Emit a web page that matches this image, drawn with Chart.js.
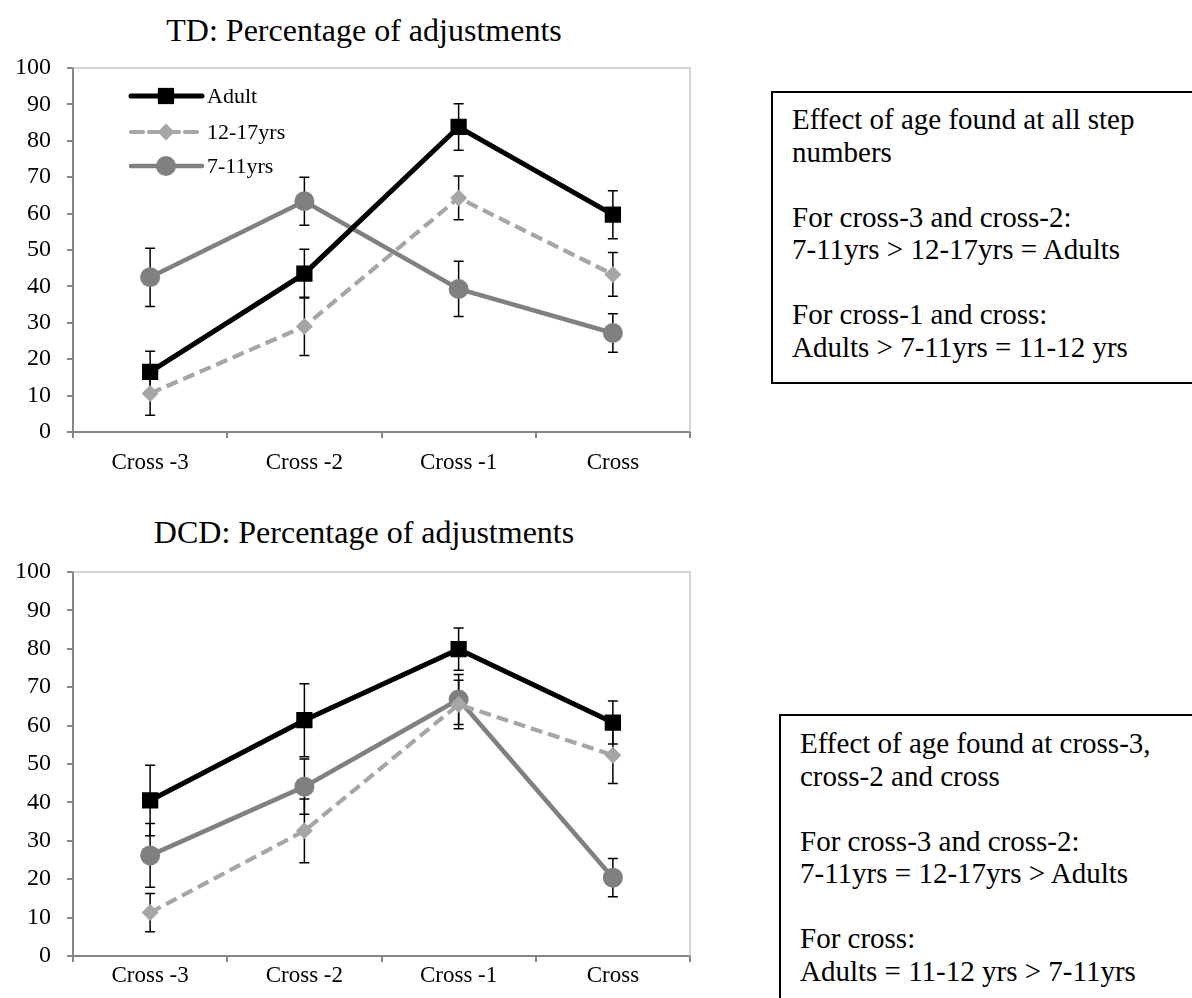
<!DOCTYPE html>
<html><head><meta charset="utf-8">
<script src="https://cdn.jsdelivr.net/npm/chart.js@4.4.0/dist/chart.umd.min.js"></script>
<style>
body{margin:0;background:#fff;width:1192px;height:998px;overflow:hidden;position:relative;font-family:'Liberation Serif','Times New Roman',serif;color:#000;}
.title{position:absolute;left:55px;width:618px;text-align:center;font-size:32px;line-height:32px;white-space:nowrap;}
.box{position:absolute;border:2px solid #000;box-sizing:border-box;font-size:29px;line-height:32.5px;padding-left:19px;white-space:nowrap;}
.cw{position:absolute;left:0;}
</style></head><body>
<div class="title" style="top:14px">TD: Percentage of adjustments</div>
<div class="title" style="top:516px">DCD: Percentage of adjustments</div>
<div class="cw" style="top:0"><canvas id="c1" width="720" height="490"></canvas></div>
<div class="cw" style="top:500px"><canvas id="c2" width="720" height="498"></canvas></div>
<div class="box" style="left:771px;top:91px;width:440px;height:293px;padding-top:10px">Effect of age found at all step<br>numbers<br><br>For cross-3 and cross-2:<br>7-11yrs &gt; 12-17yrs = Adults<br><br>For cross-1 and cross:<br>Adults &gt; 7-11yrs = 11-12 yrs</div>
<div class="box" style="left:779px;top:714px;width:440px;height:300px;padding-top:11px">Effect of age found at cross-3,<br>cross-2 and cross<br><br>For cross-3 and cross-2:<br>7-11yrs = 12-17yrs &gt; Adults<br><br>For cross:<br>Adults = 11-12 yrs &gt; 7-11yrs</div>
<script>
// ---- data ----
const categories = ['Cross -3', 'Cross -2', 'Cross -1', 'Cross'];
const seriesNames = ['Adult', '12-17yrs', '7-11yrs'];
const yTicks = [0, 10, 20, 30, 40, 50, 60, 70, 80, 90, 100];

const tdAdult = [16.5, 43.5, 83.8, 59.7];
const tdAdultErr = [5.7, 6.7, 6.4, 6.6];
const tdTeen = [10.6, 29.0, 64.3, 43.3];
const tdTeenErr = [6.0, 8.0, 6.0, 6.0];
const tdChild = [42.5, 63.4, 39.3, 27.2];
const tdChildErr = [8.0, 6.6, 7.6, 5.3];

const dcdAdult = [40.5, 61.4, 79.9, 60.8];
const dcdAdultErr = [9.2, 9.5, 5.5, 5.6];
const dcdTeen = [11.3, 32.6, 65.5, 52.3];
const dcdTeenErr = [5.0, 8.3, 6.3, 7.4];
const dcdChild = [26.2, 44.1, 66.8, 20.4];
const dcdChildErr = [8.3, 7.2, 6.5, 5.0];

// ---- styles ----
const FONT = "'Liberation Serif','Times New Roman',serif";
const AXIS = '#868686';
const styles = [
  {color:'#000000', width:5, dash:[], point:'rect', radius:11.5},
  {color:'#a6a6a6', width:4.2, dash:[12,6], point:'rectRot', radius:8.5},
  {color:'#808080', width:4.5, dash:[], point:'circle', radius:10}
];

const errorBars = {
  id:'errorBars',
  beforeDatasetsDraw(chart){
    const ctx = chart.ctx, ys = chart.scales.y;
    chart.data.datasets.forEach((ds,i)=>{
      const meta = chart.getDatasetMeta(i);
      meta.data.forEach((pt,j)=>{
        const v = ds.data[j], e = ds.errors[j];
        const y1 = ys.getPixelForValue(v+e), y2 = ys.getPixelForValue(v-e);
        ctx.save(); ctx.strokeStyle='#000'; ctx.lineWidth=1.5; ctx.setLineDash([]);
        ctx.beginPath();
        ctx.moveTo(pt.x,y1); ctx.lineTo(pt.x,y2);
        ctx.moveTo(pt.x-5,y1); ctx.lineTo(pt.x+5,y1);
        ctx.moveTo(pt.x-5,y2); ctx.lineTo(pt.x+5,y2);
        ctx.stroke(); ctx.restore();
      });
    });
  }
};

const frame = {
  id:'frame',
  beforeDatasetsDraw(chart){
    const a = chart.chartArea, ctx = chart.ctx;
    ctx.save(); ctx.strokeStyle='#c8c8c8'; ctx.lineWidth=1.5;
    ctx.beginPath(); ctx.moveTo(a.left,a.top); ctx.lineTo(a.right,a.top); ctx.lineTo(a.right,a.bottom); ctx.stroke();
    ctx.restore();
  }
};

const innerLegend = {
  id:'innerLegend',
  afterDatasetsDraw(chart, args, opts){
    if(!opts.show) return;
    const ctx = chart.ctx;
    const rows = [96, 132, 166];
    chart.data.datasets.forEach((ds,i)=>{
      const y = rows[i];
      ctx.save();
      ctx.strokeStyle = ds.borderColor; ctx.lineWidth = ds.borderWidth; ctx.setLineDash(ds.borderDash||[]);
      ctx.lineCap = 'round';
      ctx.beginPath(); ctx.moveTo(131,y); ctx.lineTo(202,y); ctx.stroke();
      ctx.setLineDash([]);
      ctx.fillStyle = ds.pointBackgroundColor; ctx.strokeStyle = ds.pointBackgroundColor;
      Chart.helpers.drawPoint(ctx, {pointStyle: ds.pointStyle, radius: ds.pointRadius, rotation:0, borderWidth:0}, 166, y);
      ctx.fillStyle='#000'; ctx.font = '22px '+FONT; ctx.textBaseline='middle'; ctx.textAlign='left';
      ctx.fillText(ds.label, 207, y+1);
      ctx.restore();
    });
  }
};

function makeDatasets(vals, errs){
  return vals.map((v,i)=>({
    label: seriesNames[i], data: v, errors: errs[i],
    borderColor: styles[i].color, borderWidth: styles[i].width, borderDash: styles[i].dash,
    pointStyle: styles[i].point, pointRadius: styles[i].radius, pointHoverRadius: styles[i].radius,
    pointBackgroundColor: styles[i].color, pointBorderColor: styles[i].color, pointBorderWidth: 0,
    tension: 0, fill: false
  }));
}

function makeChart(id, vals, errs, padTop, xHeight, xPad, legend){
  return new Chart(document.getElementById(id), {
    type:'line',
    data:{labels: categories, datasets: makeDatasets(vals, errs)},
    options:{
      responsive:false, animation:false,
      layout:{padding:{top:padTop, right:30, left:0, bottom:0}},
      plugins:{legend:{display:false}, tooltip:{enabled:false}, title:{display:false}, innerLegend:{show:legend}},
      scales:{
        x:{offset:true,
           ticks:{color:'#000', font:{family:FONT, size:23}, padding:xPad, maxRotation:0, autoSkip:false},
           grid:{offset:true, drawOnChartArea:false, drawTicks:true, tickLength:6, color:AXIS, lineWidth:2},
           border:{color:AXIS, width:2},
           afterFit(s){ s.height = xHeight; }},
        y:{min:0, max:100,
           afterBuildTicks(s){ s.ticks = yTicks.map(v=>({value:v})); },
           ticks:{color:'#000', font:{family:FONT, size:24}, padding:16},
           grid:{drawOnChartArea:false, drawTicks:true, tickLength:6, color:AXIS, lineWidth:2},
           border:{color:AXIS, width:2},
           afterFit(s){ s.width = 73; }}
      }
    },
    plugins:[frame, errorBars, innerLegend]
  });
}

makeChart('c1', [tdAdult, tdTeen, tdChild], [tdAdultErr, tdTeenErr, tdChildErr], 68, 58, 11, true);
makeChart('c2', [dcdAdult, dcdTeen, dcdChild], [dcdAdultErr, dcdTeenErr, dcdChildErr], 72, 42, 0, false);
</script>
</body></html>
